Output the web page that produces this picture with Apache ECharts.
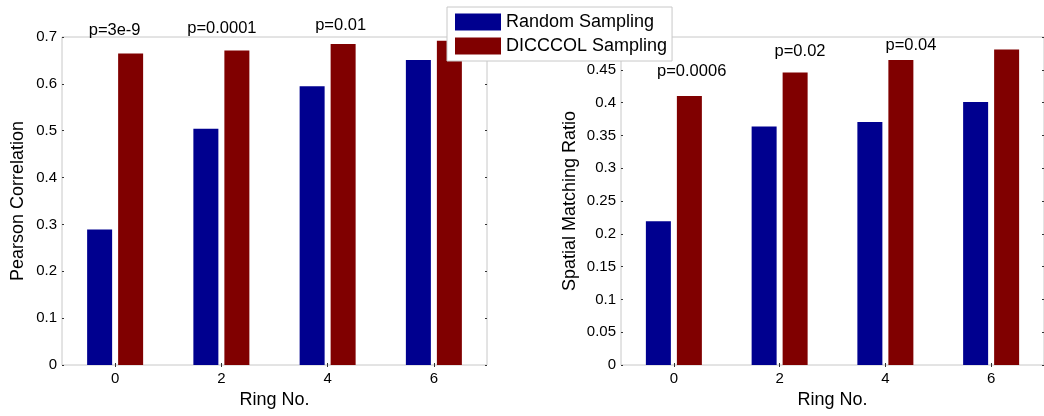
<!DOCTYPE html>
<html>
<head>
<meta charset="utf-8">
<script src="https://cdn.jsdelivr.net/npm/echarts@6/dist/echarts.min.js"></script>
<style>html,body{margin:0;padding:0;background:#fff}#c{width:1044px;height:416px}</style>
</head>
<body>
<div id="c"></div>
<script>
// ---- data ----
const categories = ['0', '2', '4', '6'];
const seriesNames = ['Random Sampling', 'DICCCOL Sampling'];
const pearsonRandom = [0.289, 0.504, 0.595, 0.651];
const pearsonDiccol = [0.665, 0.671, 0.685, 0.692];
const spatialRandom = [0.219, 0.3635, 0.3705, 0.401];
const spatialDiccol = [0.410, 0.446, 0.465, 0.481];
const pearsonP = ['p=3e-9', 'p=0.0001', 'p=0.01', ''];
const spatialP = ['p=0.0006', 'p=0.02', 'p=0.04', ''];
const pearsonTicks = [0, 0.1, 0.2, 0.3, 0.4, 0.5, 0.6, 0.7];
const spatialTicks = [0, 0.05, 0.1, 0.15, 0.2, 0.25, 0.3, 0.35, 0.4, 0.45, 0.5];
const xTitle = 'Ring No.';
const pearsonTitle = 'Pearson Correlation';
const spatialTitle = 'Spatial Matching Ratio';

// ---- styles ----
const FONT = '"Liberation Sans", Arial, sans-serif';
const BLUE = '#00008F';
const RED = '#800000';
const pearsonPOffset = [[-16, -14], [-15, -14], [-2.5, -10], [0, 0]];
const spatialPOffset = [[2.3, -16], [4.9, -12], [10.1, -6], [0, 0]];

function fmt(v) { return String(+v.toFixed(2)); }

function yAxis(gridIndex, ticks, title, gap, main) {
  const interval = +(ticks[1] - ticks[0]).toFixed(4);
  return {
    type: 'value', gridIndex: gridIndex,
    position: main ? 'left' : 'right',
    min: ticks[0], max: ticks[ticks.length - 1], interval: interval,
    name: main ? title : '', nameLocation: 'middle', nameGap: gap,
    nameTextStyle: { fontFamily: FONT, fontSize: 18, color: '#000' },
    axisLine: { show: false },
    splitLine: { show: false },
    axisTick: { show: true, inside: true, length: 2, lineStyle: { color: '#333' } },
    axisLabel: { show: main, margin: 5, fontFamily: FONT, fontSize: 15, color: '#000', formatter: fmt }
  };
}
function xAxis(gridIndex, main) {
  return {
    type: 'category', gridIndex: gridIndex, data: categories,
    position: main ? 'bottom' : 'top',
    name: main ? xTitle : '', nameLocation: 'middle', nameGap: 25,
    nameTextStyle: { fontFamily: FONT, fontSize: 18, color: '#000' },
    axisLine: { show: false },
    axisTick: { show: true, inside: true, length: 2, alignWithLabel: true, lineStyle: { color: '#333' } },
    axisLabel: { show: main, margin: 6, fontFamily: FONT, fontSize: 15, color: '#000' }
  };
}
function pData(values, labels, offsets) {
  return values.map((v, i) => labels[i] ? {
    value: v,
    label: { show: true, position: 'top', distance: 0, offset: offsets[i], formatter: labels[i],
             fontFamily: FONT, fontSize: 16.5, color: '#000' }
  } : v);
}
function bar(name, color, xi, data) {
  return {
    type: 'bar', name: name, xAxisIndex: xi, yAxisIndex: xi,
    data: data, barWidth: 25, barGap: '24%',
    itemStyle: { color: color },
    emphasis: { disabled: true }
  };
}

const chart = echarts.init(document.getElementById('c'), null, { renderer: 'canvas' });
chart.setOption({
  animation: false,
  backgroundColor: '#fff',
  grid: [
    { left: 62, top: 37, width: 425, height: 328, show: true, borderColor: '#c8c8c8', borderWidth: 1 },
    { left: 621, top: 37, width: 423, height: 328, show: true, borderColor: '#c8c8c8', borderWidth: 1 }
  ],
  legend: {
    orient: 'vertical', left: 447, top: 7,
    itemWidth: 46, itemHeight: 17, itemGap: 6,
    padding: [6, 5, 6, 8],
    backgroundColor: '#fff', borderColor: '#c8c8c8', borderWidth: 1,
    icon: 'rect',
    textStyle: { fontFamily: FONT, fontSize: 18, color: '#000', lineHeight: 17 },
    data: seriesNames
  },
  xAxis: [xAxis(0, true), xAxis(1, true), xAxis(0, false), xAxis(1, false)],
  yAxis: [
    yAxis(0, pearsonTicks, pearsonTitle, 35, true),
    yAxis(1, spatialTicks, spatialTitle, 42, true),
    yAxis(0, pearsonTicks, '', 0, false),
    yAxis(1, spatialTicks, '', 0, false)
  ],
  series: [
    bar(seriesNames[0], BLUE, 0, pearsonRandom),
    bar(seriesNames[1], RED, 0, pData(pearsonDiccol, pearsonP, pearsonPOffset)),
    bar(seriesNames[0], BLUE, 1, spatialRandom),
    bar(seriesNames[1], RED, 1, pData(spatialDiccol, spatialP, spatialPOffset))
  ]
});
</script>
</body>
</html>
